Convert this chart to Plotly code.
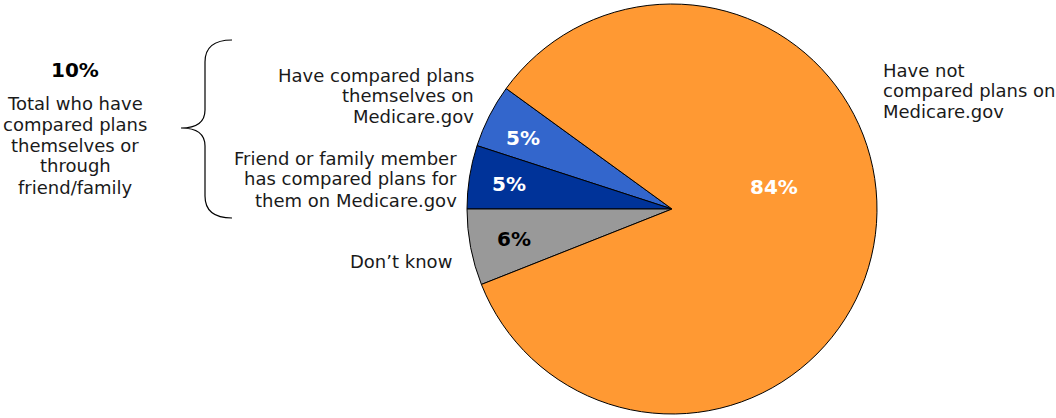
import plotly.graph_objects as go

W, H = 1056, 418

categories = ["Have compared plans themselves on Medicare.gov",
              "Friend or family member has compared plans for them on Medicare.gov",
              "Don\u2019t know",
              "Have not compared plans on Medicare.gov"]
values = [5, 5, 6, 84]
colors = ["#3366CC", "#003399", "#999999", "#FF9933"]
pct_labels = ["5%", "5%", "6%", "84%"]
pct_colors = ["white", "white", "black", "white"]

FONT = "DejaVu Sans"

def px(x):
    return x / W

def py(y):
    return 1 - y / H

cx, cy, r = 672, 209, 205

fig = go.Figure(go.Pie(
    labels=categories, values=values, sort=False,
    direction="counterclockwise", rotation=288,
    marker=dict(colors=colors, line=dict(color="black", width=1)),
    textinfo="none", hoverinfo="label+percent", showlegend=False,
    domain=dict(x=[px(cx - r), px(cx + r)], y=[py(cy + r), py(cy - r)]),
))

annotations = []

def add_lines(lines, x, y0, dy, xanchor, size=18, color="#1a1a1a", bold=False):
    for i, t in enumerate(lines):
        txt = f"<b>{t}</b>" if bold else t
        annotations.append(dict(x=px(x), y=py(y0 + i * dy), xref="paper", yref="paper",
                                text=txt, showarrow=False, xanchor=xanchor, yanchor="middle",
                                font=dict(family=FONT, size=size, color=color)))

# Category labels
add_lines(["Have compared plans", "themselves on", "Medicare.gov"], 476, 75, 21, "right")
add_lines(["Friend or family member", "has compared plans for", "them on Medicare.gov"], 459, 158, 21, "right")
add_lines(["Don\u2019t know"], 454, 261, 21, "right")
add_lines(["Have not", "compared plans on", "Medicare.gov"], 881, 70, 20.5, "left")

# Left summary
add_lines(["10%"], 75, 70, 21, "center", size=20, color="black", bold=True)
add_lines(["Total who have", "compared plans", "themselves or", "through", "friend/family"], 75, 103, 21, "center")

# Percent labels in slices
pct_pos = [(523, 138), (509, 184), (514, 239), (774, 187)]
for (x, y), t, c in zip(pct_pos, pct_labels, pct_colors):
    add_lines([t], x, y, 0, "center", size=20, color=c, bold=True)

# Curly brace
pts = [(232, 40), (205, 40), (205, 62), (205, 110), (205, 128), (181, 128),
       (205, 128), (205, 146), (205, 196), (205, 218), (232, 218)]
P = [(px(x), py(y)) for x, y in pts]
path = (f"M {P[0][0]},{P[0][1]} Q {P[1][0]},{P[1][1]} {P[2][0]},{P[2][1]} "
        f"L {P[3][0]},{P[3][1]} Q {P[4][0]},{P[4][1]} {P[5][0]},{P[5][1]} "
        f"Q {P[6][0]},{P[6][1]} {P[7][0]},{P[7][1]} L {P[8][0]},{P[8][1]} "
        f"Q {P[9][0]},{P[9][1]} {P[10][0]},{P[10][1]}")

fig.update_layout(
    width=W, height=H, margin=dict(l=0, r=0, t=0, b=0),
    paper_bgcolor="white", plot_bgcolor="white",
    annotations=annotations,
    shapes=[dict(type="path", path=path, xref="paper", yref="paper",
                 line=dict(color="black", width=1.2))],
)

fig.write_html("out.html", config={"displayModeBar": False},
               post_script="document.body.style.margin='0';")
